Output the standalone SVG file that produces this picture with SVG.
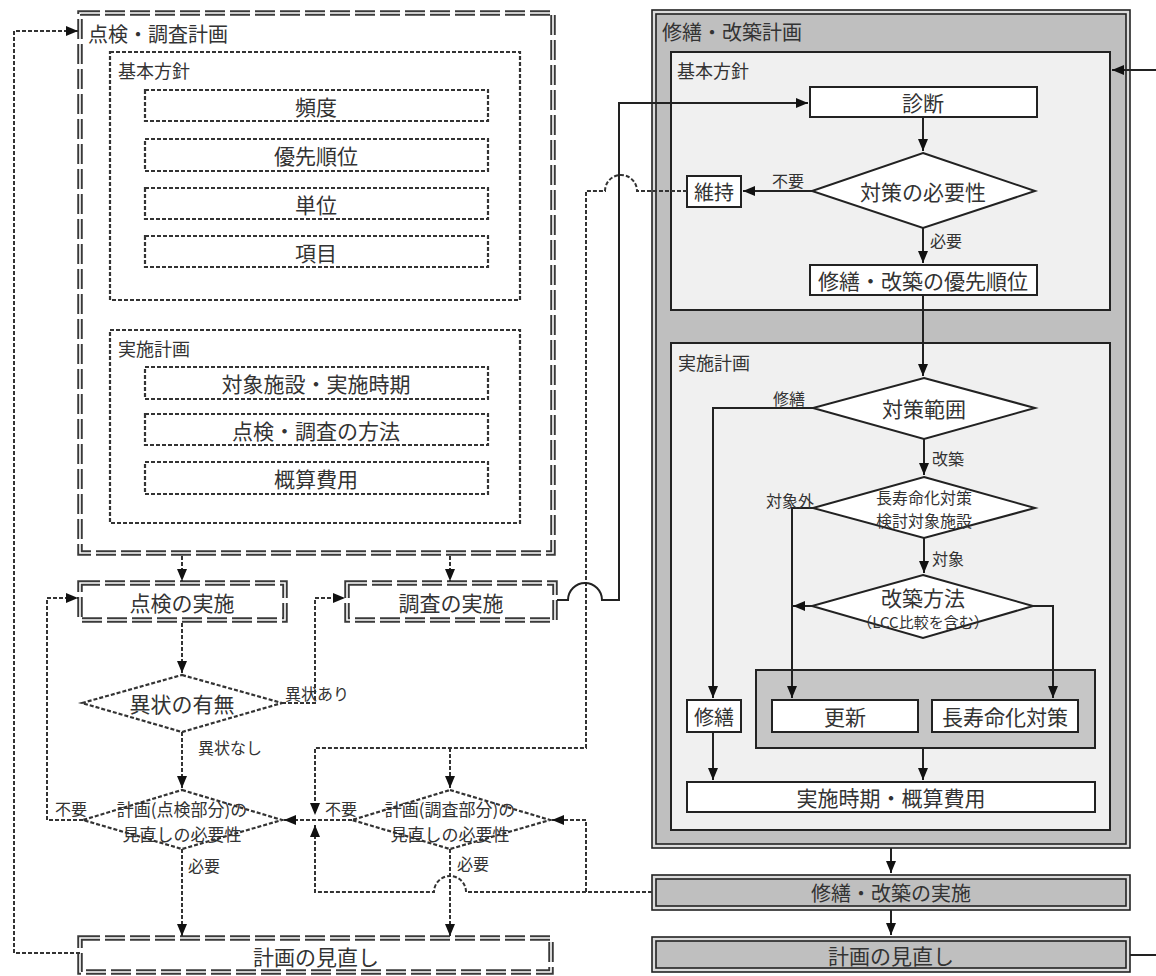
<svg xmlns="http://www.w3.org/2000/svg" width="1156" height="976" viewBox="0 0 1156 976">
<style>
text{font-family:"Noto Sans CJK JP","Noto Sans",sans-serif;fill:#333;dominant-baseline:central}
.c{text-anchor:middle}
.t21{font-size:21px}.t20{font-size:20px}.t18{font-size:18px}.t17{font-size:17px}.t16{font-size:16px}.t15{font-size:15px}
.dd{fill:#fff;stroke:#3a3a3a;stroke-width:5.5;stroke-dasharray:20 5}
.ddw{fill:none;stroke:#fff;stroke-width:1.6;stroke-dasharray:20 5}
.dot{fill:#fff;stroke:#333;stroke-width:2.2;stroke-dasharray:4 2}
.dotl{fill:none;stroke:#333;stroke-width:2;stroke-dasharray:4 2}
.sol{fill:none;stroke:#222;stroke-width:2}
.box{fill:#fff;stroke:#222;stroke-width:2}
.inner{fill:#f0f0f0;stroke:#222;stroke-width:2}
.grp{fill:#c6c6c6;stroke:#222;stroke-width:2}
.outA{fill:#dcdcdc;stroke:#222;stroke-width:1.6}
.outB{fill:#bfbfbf;stroke:#222;stroke-width:1.6}
</style>
<defs>
<marker id="ah" markerUnits="userSpaceOnUse" markerWidth="12" markerHeight="10" refX="12" refY="5" orient="auto" viewBox="0 0 12 10">
<path d="M0,0 L12,5 L0,10 z" fill="#111"/>
</marker>
</defs>
<rect width="1156" height="976" fill="#fff"/>

<!-- LEFT: 点検・調査計画 -->
<g id="plan-left">
<rect class="dd" x="80" y="13" width="473" height="540"/>
<rect class="ddw" x="80" y="13" width="473" height="540"/>
<text class="t20" x="88" y="33">点検・調査計画</text>
</g>
<g id="basic-left">
<rect class="dot" x="110" y="52" width="410" height="248"/>
<text class="t18" x="118" y="70">基本方針</text>
</g>
<g id="hindo"><rect class="dot" x="145" y="90" width="343" height="31"/><text class="t21 c" x="316" y="106">頻度</text></g>
<g id="yusen"><rect class="dot" x="145" y="139" width="343" height="32"/><text class="t21 c" x="316" y="155">優先順位</text></g>
<g id="tani"><rect class="dot" x="145" y="188" width="343" height="31"/><text class="t21 c" x="316" y="204">単位</text></g>
<g id="komoku"><rect class="dot" x="145" y="236" width="343" height="31"/><text class="t21 c" x="316" y="252">項目</text></g>
<g id="jisshi-left">
<rect class="dot" x="110" y="330" width="410" height="193"/>
<text class="t18" x="118" y="348">実施計画</text>
</g>
<g id="taisho"><rect class="dot" x="145" y="367" width="343" height="32"/><text class="t21 c" x="316" y="383">対象施設・実施時期</text></g>
<g id="hoho"><rect class="dot" x="145" y="414" width="343" height="31"/><text class="t21 c" x="316" y="430">点検・調査の方法</text></g>
<g id="gaisan"><rect class="dot" x="145" y="462" width="343" height="32"/><text class="t21 c" x="316" y="478">概算費用</text></g>

<g id="tenken-jisshi">
<rect class="dd" x="80" y="583" width="205" height="37"/>
<rect class="ddw" x="80" y="583" width="205" height="37"/>
<text class="t21 c" x="182" y="602">点検の実施</text>
</g>
<g id="chosa-jisshi">
<rect class="dd" x="347" y="583" width="208" height="37"/>
<rect class="ddw" x="347" y="583" width="208" height="37"/>
<text class="t21 c" x="451" y="602">調査の実施</text>
</g>
<g id="ijo">
<polygon class="dot" points="182,675 282,703 182,732 82,703"/>
<text class="t21 c" x="182" y="703">異状の有無</text>
</g>
<g id="minaoshi1">
<polygon class="dot" points="182,790 282,820 182,849 83,820"/>
<text class="t17 c" x="182" y="808">計画(点検部分)の</text>
<text class="t17 c" x="182" y="833">見直しの必要性</text>
</g>
<g id="minaoshi2">
<polygon class="dot" points="450,790 550,820 450,849 352,820"/>
<text class="t17 c" x="450" y="808">計画(調査部分)の</text>
<text class="t17 c" x="450" y="833">見直しの必要性</text>
</g>
<g id="review-left">
<rect class="dd" x="80" y="938" width="471" height="34"/>
<rect class="ddw" x="80" y="938" width="471" height="34"/>
<text class="t21 c" x="316" y="956">計画の見直し</text>
</g>

<!-- RIGHT: 修繕・改築計画 -->
<g id="plan-right">
<rect class="outA" x="652" y="10" width="478" height="838"/>
<rect class="outB" x="656" y="14" width="470" height="830"/>
<text class="t20" x="662" y="31">修繕・改築計画</text>
</g>
<g id="basic-right">
<rect class="inner" x="671" y="52" width="439" height="258"/>
<text class="t18" x="677" y="70">基本方針</text>
</g>
<g id="shindan"><rect class="box" x="810" y="87" width="227" height="30"/><text class="t21 c" x="923" y="102">診断</text></g>
<g id="hitsuyosei"><polygon class="box" points="923,153 1035,191 923,228 812,191"/><text class="t21 c" x="923" y="191">対策の必要性</text></g>
<g id="iji"><rect class="box" x="687" y="176" width="54" height="31"/><text class="t20 c" x="714" y="191">維持</text></g>
<g id="yusenjuni"><rect class="box" x="810" y="265" width="227" height="30"/><text class="t21 c" x="923" y="280">修繕・改築の優先順位</text></g>
<g id="jisshi-right">
<rect class="inner" x="671" y="343" width="439" height="487"/>
<text class="t18" x="678" y="362">実施計画</text>
</g>
<g id="hani"><polygon class="box" points="924,378 1035,408 924,439 813,408"/><text class="t21 c" x="924" y="408">対策範囲</text></g>
<g id="kento"><polygon class="box" points="924,477 1035,508 924,538 813,508"/><text class="t16 c" x="924" y="497">長寿命化対策</text><text class="t16 c" x="924" y="520">検討対象施設</text></g>
<g id="kaichiku"><polygon class="box" points="923,575 1033,606 923,638 812,606"/><text class="t21 c" x="923" y="597">改築方法</text><text class="t15 c" x="923" y="621">（LCC比較を含む）</text></g>
<g id="group-box"><rect class="grp" x="756" y="670" width="339" height="78"/></g>
<g id="shuzen"><rect class="box" x="687" y="700" width="54" height="32"/><text class="t20 c" x="714" y="716">修繕</text></g>
<g id="koshin"><rect class="box" x="772" y="700" width="146" height="32"/><text class="t21 c" x="845" y="716">更新</text></g>
<g id="chojumyo"><rect class="box" x="932" y="700" width="146" height="32"/><text class="t21 c" x="1005" y="716">長寿命化対策</text></g>
<g id="jiki"><rect class="box" x="687" y="782" width="408" height="30"/><text class="t21 c" x="891" y="797">実施時期・概算費用</text></g>
<g id="shuzen-jisshi">
<rect class="outA" x="652" y="875" width="478" height="35"/>
<rect class="outB" x="656" y="879" width="470" height="27"/>
<text class="t20 c" x="891" y="892">修繕・改築の実施</text>
</g>
<g id="review-right">
<rect class="outA" x="652" y="937" width="478" height="35"/>
<rect class="outB" x="656" y="941" width="470" height="27"/>
<text class="t21 c" x="891" y="955">計画の見直し</text>
</g>

<!-- connectors -->
<g id="connectors">
<path class="dotl" d="M80 953 H14 V31 H78" marker-end="url(#ah)"/>
<path class="dotl" d="M182 556 V581" marker-end="url(#ah)"/>
<path class="dotl" d="M450 556 V581" marker-end="url(#ah)"/>
<path class="dotl" d="M182 623 V673" marker-end="url(#ah)"/>
<path class="dotl" d="M182 732 V788" marker-end="url(#ah)"/>
<path class="dotl" d="M182 849 V936" marker-end="url(#ah)"/>
<path class="dotl" d="M450 849 V936" marker-end="url(#ah)"/>
<path class="dotl" d="M282 703 H315 V598 H345" marker-end="url(#ah)"/>
<path class="dotl" d="M83 820 H47 V598 H78" marker-end="url(#ah)"/>
<path class="dotl" d="M352 820 H284" marker-end="url(#ah)"/>
<path class="dotl" d="M687 191 H637 A16 16 0 0 0 605 191 H586 V748 H315 V815" marker-end="url(#ah)"/>
<path class="dotl" d="M450 748 V788" marker-end="url(#ah)"/>
<path class="dotl" d="M652 892 H466 A16 16 0 0 0 434 892 H315 V825" marker-end="url(#ah)"/>
<path class="dotl" d="M586 892 V820 H552" marker-end="url(#ah)"/>

<path class="sol" d="M557 600 H568 A17 17 0 0 1 602 600 H619 V103 H808" marker-end="url(#ah)"/>
<path class="sol" d="M1156 70 H1112" marker-end="url(#ah)"/>
<path class="sol" d="M1130 955 H1156"/>
<path class="sol" d="M923 117 V151" marker-end="url(#ah)"/>
<path class="sol" d="M923 228 V263" marker-end="url(#ah)"/>
<path class="sol" d="M923 295 V376" marker-end="url(#ah)"/>
<path class="sol" d="M812 191 H743" marker-end="url(#ah)"/>
<path class="sol" d="M813 408 H713 V698" marker-end="url(#ah)"/>
<path class="sol" d="M924 439 V475" marker-end="url(#ah)"/>
<path class="sol" d="M813 508 H792 V698" marker-end="url(#ah)"/>
<path class="sol" d="M924 538 V573" marker-end="url(#ah)"/>
<path class="sol" d="M812 606 H793" marker-end="url(#ah)"/>
<path class="sol" d="M1033 606 H1053 V698" marker-end="url(#ah)"/>
<path class="sol" d="M713 732 V780" marker-end="url(#ah)"/>
<path class="sol" d="M923 748 V780" marker-end="url(#ah)"/>
<path class="sol" d="M891 848 V873" marker-end="url(#ah)"/>
<path class="sol" d="M891 910 V935" marker-end="url(#ah)"/>
</g>

<!-- connector labels -->
<g id="labels">
<text class="t16" x="772" y="180">不要</text>
<text class="t16" x="930" y="240">必要</text>
<text class="t16" x="773" y="398">修繕</text>
<text class="t16" x="932" y="458">改築</text>
<text class="t16" x="766" y="500">対象外</text>
<text class="t16" x="932" y="558">対象</text>
<text class="t16" x="285" y="693">異状あり</text>
<text class="t16" x="198" y="747">異状なし</text>
<text class="t16" x="55" y="808">不要</text>
<text class="t16" x="325" y="808">不要</text>
<text class="t16" x="188" y="865">必要</text>
<text class="t16" x="457" y="863">必要</text>
</g>
</svg>
